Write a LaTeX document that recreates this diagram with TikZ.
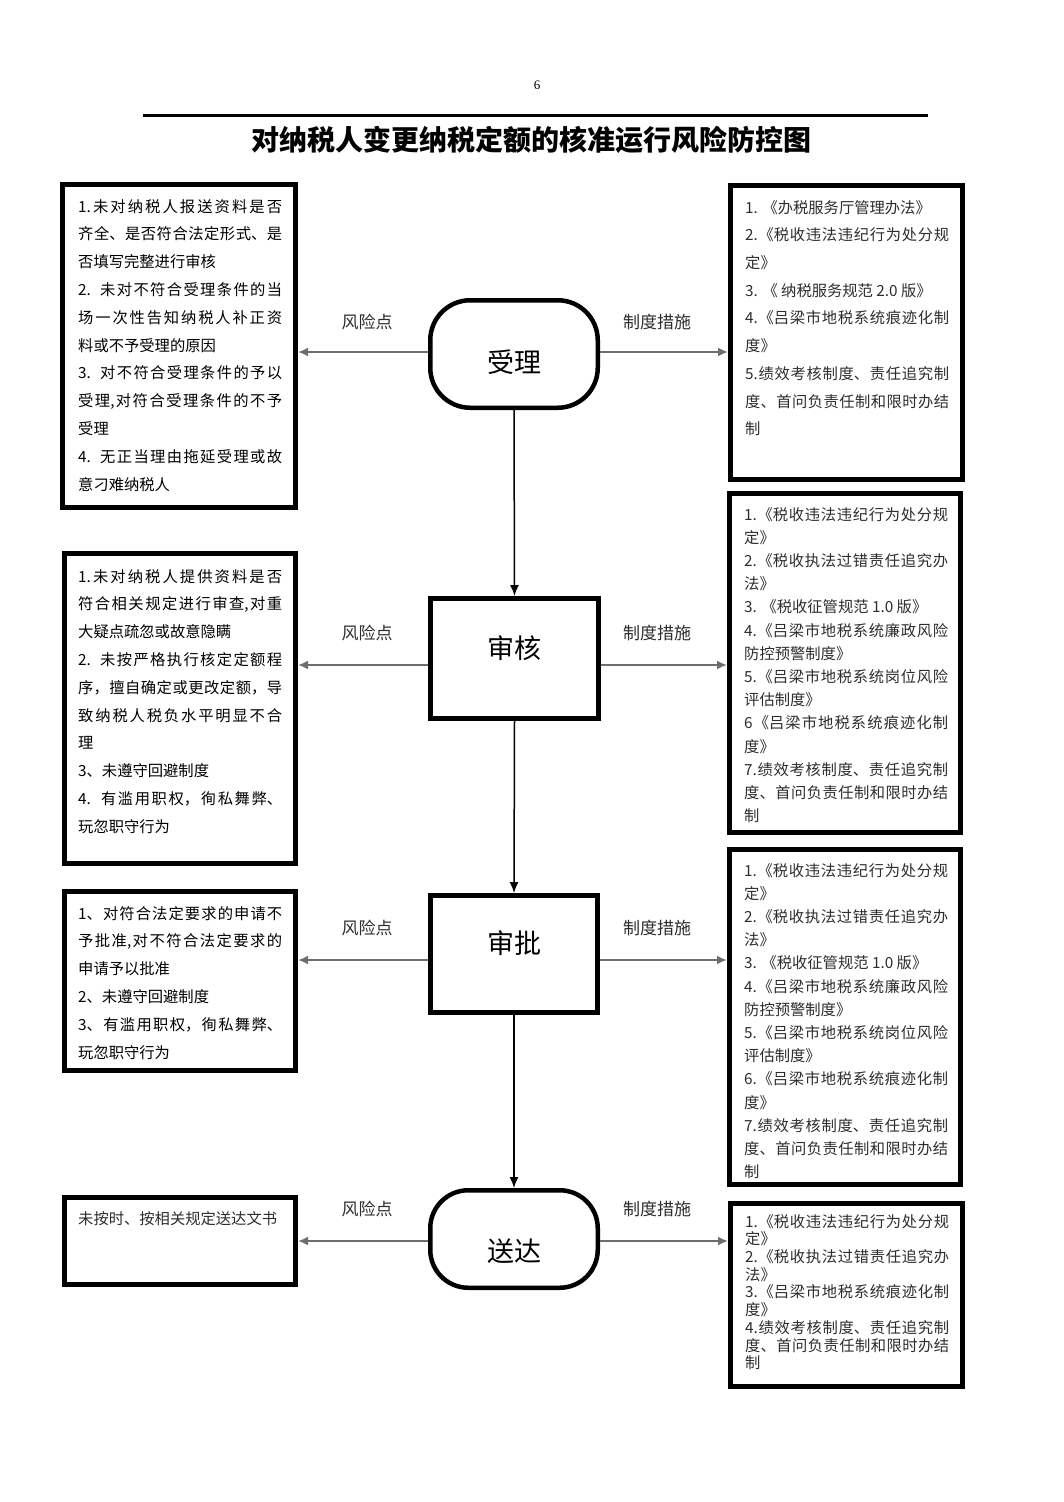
\documentclass[tikz,border=0pt]{standalone}
\usepackage{fontspec}
\setmainfont{Noto Sans CJK SC}
\newfontfamily\serifnum{Liberation Serif}
\usetikzlibrary{arrows.meta}
\XeTeXlinebreaklocale "zh"
\XeTeXlinebreakskip=0pt plus 1.5pt
\definecolor{arrowgray}{RGB}{110,110,110}
\definecolor{txtgray}{RGB}{45,45,45}
\begin{document}
\begin{tikzpicture}[x=1pt,y=-1pt,
  frame/.style={draw=black,line width=5pt,rectangle,inner sep=0pt},
  stadium/.style={draw=black,line width=4.5pt,rectangle,rounded corners=40pt,inner sep=0pt},
  boxtext/.style={anchor=north west,inner sep=0pt,text width=204pt,align=justify,
    execute at begin node={\parindent=0pt\parskip=0pt}},
  ltext/.style={boxtext,text=black,font=\fontsize{15.3}{27.8}\selectfont},
  rtext/.style={boxtext,text=txtgray,font=\fontsize{15.3}{27.7}\selectfont},
  rtextb/.style={boxtext,text=txtgray,font=\fontsize{15.3}{23.2}\selectfont},
  rtextc/.style={boxtext,text=txtgray,font=\fontsize{15.3}{17.7}\selectfont},
  lab/.style={font=\fontsize{17}{20}\selectfont,text=txtgray,inner sep=0pt},
  ctext/.style={font=\fontsize{27}{30}\selectfont,inner sep=0pt},
  garrow/.style={draw=arrowgray,line width=2pt,-{Latex[length=10pt,width=9pt]}},
  varrow/.style={draw=black,line width=1.5pt,-{Latex[length=11pt,width=9pt]}}
]
\fill[white] (0,0) rectangle (1063,1502);
\useasboundingbox (0,0) rectangle (1063,1502);

% header
\node[font=\serifnum\fontsize{13}{15}\selectfont,inner sep=0pt] (pg) at (537,85) {6};
\draw[line width=3pt] (143,115) -- (928,115);
\node[font=\fontsize{28}{32}\selectfont\bfseries,inner sep=0pt] (title) at (531,140) {对纳税人变更纳税定额的核准运行风险防控图};

% center nodes
\node[stadium,minimum width=167.5pt,minimum height=107.5pt] (S1) at (514,354) {};
\node[ctext] (S1t) at (514,362) {受理};
\node[frame,minimum width=168pt,minimum height=120pt] (S2) at (514.5,658.5) {};
\node[ctext] (S2t) at (514,648) {审核};
\node[frame,minimum width=167pt,minimum height=117pt] (S3) at (514,954) {};
\node[ctext] (S3t) at (514,943) {审批};
\node[stadium,rounded corners=38pt,minimum width=167.5pt,minimum height=97.5pt] (S4) at (514,1239) {};
\node[ctext] (S4t) at (514,1251) {送达};

% left boxes
\node[frame,minimum width=233pt,minimum height=323pt] (L1) at (179,346) {};
\node[ltext] (L1t) at (78,199) {1.未对纳税人报送资料是否\linebreak
齐全、是否符合法定形式、是\linebreak
否填写完整进行审核\par
2. 未对不符合受理条件的当\linebreak
场一次性告知纳税人补正资\linebreak
料或不予受理的原因\par
3. 对不符合受理条件的予以\linebreak
受理,对符合受理条件的不予\linebreak
受理\par
4. 无正当理由拖延受理或故\linebreak
意刁难纳税人};

\node[frame,minimum width=231pt,minimum height=310pt] (L2) at (180,708.5) {};
\node[ltext] (L2t) at (78,569) {1.未对纳税人提供资料是否\linebreak
符合相关规定进行审查,对重\linebreak
大疑点疏忽或故意隐瞒\par
2. 未按严格执行核定定额程\linebreak
序，擅自确定或更改定额，导\linebreak
致纳税人税负水平明显不合\linebreak
理\par
3、未遵守回避制度\par
4. 有滥用职权，徇私舞弊、\linebreak
玩忽职守行为};

\node[frame,minimum width=231pt,minimum height=179pt] (L3) at (180,981) {};
\node[ltext] (L3t) at (78,906) {1、对符合法定要求的申请不\linebreak
予批准,对不符合法定要求的\linebreak
申请予以批准\par
2、未遵守回避制度\par
3、有滥用职权，徇私舞弊、\linebreak
玩忽职守行为};

\node[frame,minimum width=231pt,minimum height=87pt] (L4) at (180,1241) {};
\node[ltext,text=txtgray] (L4t) at (78,1211) {未按时、按相关规定送达文书};

% right boxes
\node[frame,minimum width=232pt,minimum height=294pt] (R1) at (846.5,332.5) {};
\node[rtext] (R1t) at (745,200) {1. 《办税服务厅管理办法》\par
2.《税收违法违纪行为处分规\linebreak
定》\par
3. 《 纳税服务规范 2.0 版》\par
4.《吕梁市地税系统痕迹化制\linebreak
度》\par
5.绩效考核制度、责任追究制\linebreak
度、首问负责任制和限时办结\linebreak
制};

\node[frame,minimum width=231pt,minimum height=339pt] (R2) at (845,663) {};
\node[rtextb] (R2t) at (744,507) {1.《税收违法违纪行为处分规\linebreak
定》\par
2.《税收执法过错责任追究办\linebreak
法》\par
3. 《税收征管规范 1.0 版》\par
4.《吕梁市地税系统廉政风险\linebreak
防控预警制度》\par
5.《吕梁市地税系统岗位风险\linebreak
评估制度》\par
6《吕梁市地税系统痕迹化制\linebreak
度》\par
7.绩效考核制度、责任追究制\linebreak
度、首问负责任制和限时办结\linebreak
制};

\node[frame,minimum width=231pt,minimum height=335pt] (R3) at (845,1017) {};
\node[rtextb] (R3t) at (744,863) {1.《税收违法违纪行为处分规\linebreak
定》\par
2.《税收执法过错责任追究办\linebreak
法》\par
3. 《税收征管规范 1.0 版》\par
4.《吕梁市地税系统廉政风险\linebreak
防控预警制度》\par
5.《吕梁市地税系统岗位风险\linebreak
评估制度》\par
6.《吕梁市地税系统痕迹化制\linebreak
度》\par
7.绩效考核制度、责任追究制\linebreak
度、首问负责任制和限时办结\linebreak
制};

\node[frame,minimum width=232pt,minimum height=183pt] (R4) at (846.5,1295) {};
\node[rtextc] (R4t) at (745,1214) {1.《税收违法违纪行为处分规\linebreak
定》\par
2.《税收执法过错责任追究办\linebreak
法》\par
3.《吕梁市地税系统痕迹化制\linebreak
度》\par
4.绩效考核制度、责任追究制\linebreak
度、首问负责任制和限时办结\linebreak
制};

% labels
\node[lab] (a1) at (367,322) {风险点};
\node[lab] (b1) at (657,322) {制度措施};
\node[lab] (a2) at (367,633) {风险点};
\node[lab] (b2) at (657,633) {制度措施};
\node[lab] (a3) at (367,928) {风险点};
\node[lab] (b3) at (657,928) {制度措施};
\node[lab] (a4) at (367,1209) {风险点};
\node[lab] (b4) at (657,1209) {制度措施};

% vertical flow
\draw[varrow] (S1.south) -- (S2.north);
\draw[varrow] (S2.south) -- (S3.north);
\draw[varrow] (S3.south) -- (S4.north);

% side arrows
\draw[garrow] (S1.west |- 0,352) -- (L1.east |- 0,352);
\draw[garrow] (S1.east |- 0,352) -- (R1.west |- 0,352);
\draw[garrow] (S2.west |- 0,665) -- (L2.east |- 0,665);
\draw[garrow] (S2.east |- 0,665) -- (R2.west |- 0,665);
\draw[garrow] (S3.west |- 0,960) -- (L3.east |- 0,960);
\draw[garrow] (S3.east |- 0,960) -- (R3.west |- 0,960);
\draw[garrow] (S4.west |- 0,1241) -- (L4.east |- 0,1241);
\draw[garrow] (S4.east |- 0,1241) -- (R4.west |- 0,1241);
\end{tikzpicture}
\end{document}
